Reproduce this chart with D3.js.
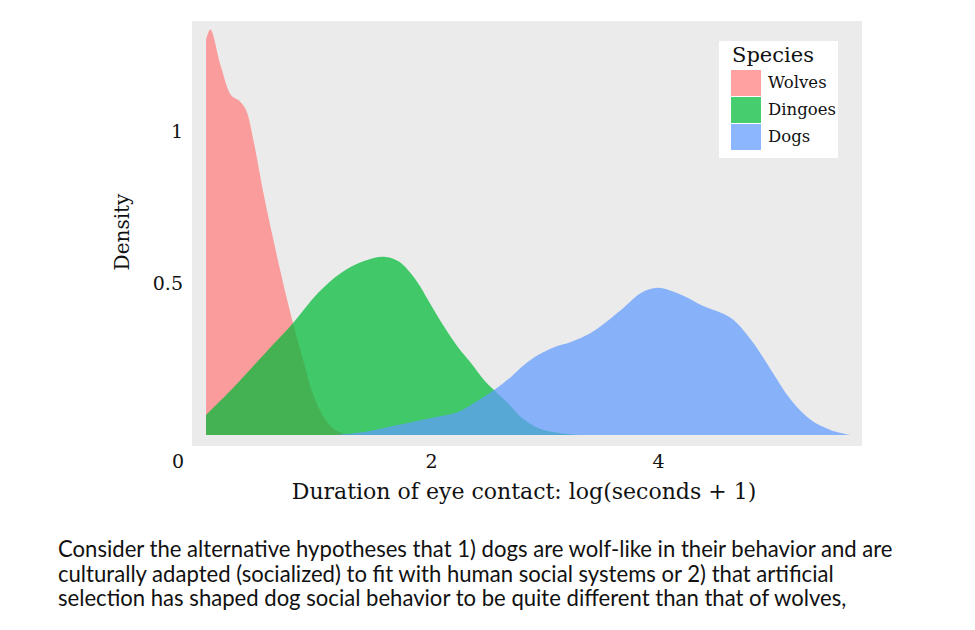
<!DOCTYPE html>
<html>
<head>
<meta charset="utf-8">
<script src="https://cdn.jsdelivr.net/npm/d3@7"></script>
<style>
  body { margin: 0; background: #fff; }
  svg { display: block; }
  .serif { font-family: "DejaVu Serif", "Liberation Serif", serif; fill: #111; }
  .note { font-family: Lato, "Open Sans", sans-serif; fill: #111; }
</style>
</head>
<body>
<div id="chart"></div>
<script>
// densities: [log(seconds+1), density]
const wolves = [
  [0.018, 1.30], [0.056, 1.334], [0.15, 1.211], [0.238, 1.118], [0.308, 1.10],
  [0.37, 1.069], [0.44, 0.961], [0.529, 0.786], [0.617, 0.632], [0.705, 0.487],
  [0.793, 0.355], [0.881, 0.237], [0.969, 0.125], [1.093, 0.039], [1.207, 0.007], [1.383, 0]
];
const dingoes = [
  [0.018, 0.066], [0.264, 0.158], [0.564, 0.28], [0.784, 0.368], [1.004, 0.467],
  [1.207, 0.533], [1.41, 0.572], [1.586, 0.586], [1.709, 0.572], [1.797, 0.543],
  [1.885, 0.50], [1.974, 0.444], [2.062, 0.388], [2.15, 0.336], [2.238, 0.289],
  [2.352, 0.237], [2.467, 0.181], [2.555, 0.148], [2.678, 0.105], [2.793, 0.059],
  [2.943, 0.023], [3.119, 0.007], [3.295, 0]
];
const dogs = [
  [1.145, 0], [1.41, 0.010], [1.709, 0.033], [2.0, 0.056], [2.238, 0.076], [2.379, 0.105],
  [2.555, 0.148], [2.705, 0.191], [2.819, 0.23], [2.943, 0.263], [3.084, 0.289],
  [3.233, 0.306], [3.41, 0.336], [3.674, 0.411], [3.85, 0.467], [4.0, 0.484],
  [4.203, 0.461], [4.379, 0.428], [4.643, 0.385], [4.819, 0.313], [4.996, 0.214],
  [5.172, 0.115], [5.348, 0.049], [5.524, 0.016], [5.70, 0]
];
const species = ["Wolves", "Dingoes", "Dogs"];
const speciesColors = ["#FF7E7E", "#00BA38", "#619CFF"];
const xTicks = [2, 4];
const yTicks = [0.5, 1];
const xTitle = "Duration of eye contact: log(seconds + 1)";
const yTitle = "Density";
const noteLines = [
  "Consider the alternative hypotheses that 1) dogs are wolf-like in their behavior and are",
  "culturally adapted (socialized) to fit with human social systems or 2) that artificial",
  "selection has shaped dog social behavior to be quite different than that of wolves,"
];

const width = 975, height = 630;
const panel = {left: 192, right: 862, top: 21, bottom: 446};

let svg = d3.select("#chart").append("svg")
    .attr("width", width)
    .attr("height", height);

let x = d3.scaleLinear().domain([0, 4]).range([204, 658]);
let y = d3.scaleLinear().domain([0, 1]).range([435, 131]);

svg.append("rect")
    .attr("x", panel.left)
    .attr("y", panel.top)
    .attr("width", panel.right - panel.left)
    .attr("height", panel.bottom - panel.top)
    .attr("fill", "#EBEBEB");

let area = d3.area()
    .x(d => x(d[0]))
    .y0(y(0))
    .y1(d => y(d[1]))
    .curve(d3.curveCatmullRom.alpha(0.5));

let series = [wolves, dingoes, dogs];
svg.selectAll("path.density")
    .data(series)
    .enter()
    .append("path")
    .classed("density", true)
    .attr("d", area)
    .attr("fill", (d, i) => speciesColors[i])
    .attr("fill-opacity", 0.73);

// axes, no lines, only labels
let xAxis = svg.append("g")
    .attr("transform", `translate(0,${panel.bottom})`)
    .call(d3.axisBottom(x).tickValues(xTicks).tickSize(0).tickPadding(9).tickFormat(d3.format("d")));
let yAxis = svg.append("g")
    .attr("transform", `translate(${panel.left},0)`)
    .call(d3.axisLeft(y).tickValues(yTicks).tickSize(0).tickPadding(9).tickFormat(d => d));
for (let ax of [xAxis, yAxis]) {
    ax.select(".domain").remove();
    ax.selectAll("text")
        .attr("class", "serif")
        .attr("fill", "#111")
        .style("font-size", "19px");
}
yAxis.selectAll("text").attr("dy", "0.35em");

// shared origin label sits below the panel corner
svg.append("text")
    .attr("class", "serif")
    .attr("x", 178)
    .attr("y", 468)
    .attr("text-anchor", "middle")
    .style("font-size", "19px")
    .text("0");

let xt = svg.append("text")
    .attr("class", "serif")
    .attr("x", 524)
    .attr("y", 499)
    .attr("text-anchor", "middle")
    .style("font-size", "20px")
    .text(xTitle);

svg.append("text")
    .attr("class", "serif")
    .attr("transform", "translate(129,232) rotate(-90)")
    .attr("text-anchor", "middle")
    .style("font-size", "20px")
    .text(yTitle);

// legend
let legend = svg.append("g").attr("transform", "translate(719,41)");
legend.append("rect")
    .attr("width", 119)
    .attr("height", 117)
    .attr("fill", "#fff");
legend.append("text")
    .attr("class", "serif")
    .attr("x", 13)
    .attr("y", 21)
    .style("font-size", "21px")
    .text("Species");
let items = legend.selectAll("g.item")
    .data(species)
    .enter()
    .append("g")
    .classed("item", true)
    .attr("transform", (d, i) => `translate(12,${29 + i * 27})`);
items.append("rect")
    .attr("width", 30)
    .attr("height", 26)
    .attr("fill", (d, i) => speciesColors[i])
    .attr("fill-opacity", 0.73);
items.append("text")
    .attr("class", "serif")
    .attr("x", 37)
    .attr("y", 18)
    .style("font-size", "16.5px")
    .text(d => d);

// caption under the chart
let notes = svg.selectAll("text.note")
    .data(noteLines)
    .enter()
    .append("text")
    .classed("note", true)
    .attr("x", 58)
    .attr("y", (d, i) => 557 + i * 24.5)
    .style("font-size", "18px")
    .text(d => d);

// fit font sizes to the widths in the original
function fit(sel, target, base) {
    let w = sel.node().getComputedTextLength();
    return base * target / w;
}
let noteSize = fit(notes.filter((d, i) => i === 0), 835, 18);
notes.style("font-size", noteSize + "px");
xt.style("font-size", fit(xt, 465, 20) + "px");
</script>
</body>
</html>
